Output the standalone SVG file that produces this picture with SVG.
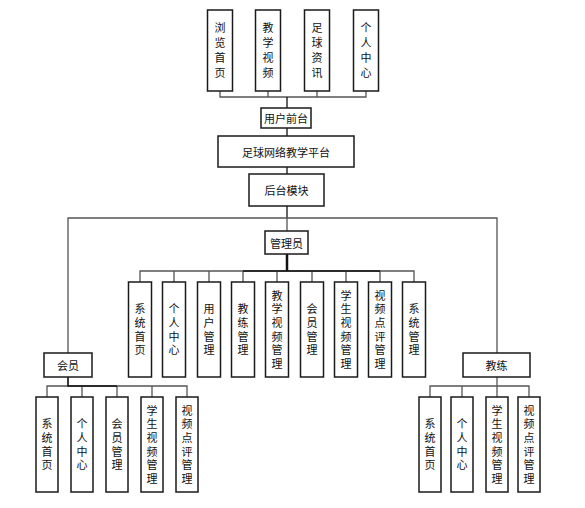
<svg xmlns="http://www.w3.org/2000/svg" width="585" height="508" viewBox="0 0 585 508">
<style>
rect{fill:#fff;stroke:#1a1a1a;stroke-width:1.5}
text{font-family:"Noto Sans CJK SC","Noto Sans CJK JP",sans-serif;font-size:11px;fill:#111;text-anchor:middle;dominant-baseline:central}
.v{writing-mode:vertical-rl;letter-spacing:2.6px}
.t{writing-mode:vertical-rl;letter-spacing:4px}
.c{fill:none;stroke:#555;stroke-width:1.3}
.k{fill:none;stroke:#111;stroke-width:1.3}
</style>
<rect x="0" y="0" width="585" height="508" style="fill:#fff;stroke:none"/>
<g id="connectors">
<path class="c" d="M220 91V97H366V91M268 91V97M317 97V91"/>
<path class="k" d="M287 97V108M287 128V136M287 167V174M287 206V218"/>
<path class="c" d="M68 353V218H497V353M287 218V231"/>
<path class="c" d="M140 282V271H414V282M174 271V282M209 271V282M243 271V282M277 271V282M312 271V282M346 271V282M380 271V282"/>
<path class="k" d="M287 254V271" style="stroke-width:2.5"/>
<path class="k" d="M243 271H380"/>
<path class="c" d="M68 377V386M47 397V386H187V397M82 386V397M117 386V397M152 386V397"/>
<path class="k" d="M68 377V386H117"/>
<path class="c" d="M497 377V386M430 397V386H529V397M462 386V397M497 386V397"/>
</g>
<g id="n-browse"><rect x="207.5" y="10" width="25" height="81"/><text class="t" x="220" y="52.5">浏览首页</text></g>
<g id="n-video"><rect x="255.5" y="10" width="25" height="81"/><text class="t" x="268" y="52.5">教学视频</text></g>
<g id="n-news"><rect x="304.5" y="10" width="25" height="81"/><text class="t" x="317" y="52.5">足球资讯</text></g>
<g id="n-me"><rect x="353.5" y="10" width="25" height="81"/><text class="t" x="366" y="52.5">个人中心</text></g>
<g id="n-front"><rect x="261" y="108" width="50" height="20"/><text x="286" y="118">用户前台</text></g>
<g id="n-platform"><rect x="218" y="136" width="136" height="31"/><text x="286" y="151.5">足球网络教学平台</text></g>
<g id="n-backend"><rect x="249" y="174" width="75" height="32"/><text x="286.5" y="190">后台模块</text></g>
<g id="n-admin"><rect x="265" y="231" width="43" height="23"/><text x="286.5" y="242.5">管理员</text></g>
<g id="n-a1"><rect x="128.5" y="282" width="23" height="95"/><text class="v" x="140" y="331">系统首页</text></g>
<g id="n-a2"><rect x="162.5" y="282" width="23" height="95"/><text class="v" x="174" y="331">个人中心</text></g>
<g id="n-a3"><rect x="197.5" y="282" width="23" height="95"/><text class="v" x="209" y="331">用户管理</text></g>
<g id="n-a4"><rect x="231.5" y="282" width="23" height="95"/><text class="v" x="243" y="331">教练管理</text></g>
<g id="n-a5"><rect x="265.5" y="282" width="23" height="95"/><text class="v" x="277" y="331">教学视频管理</text></g>
<g id="n-a6"><rect x="300.5" y="282" width="23" height="95"/><text class="v" x="312" y="331">会员管理</text></g>
<g id="n-a7"><rect x="334.5" y="282" width="23" height="95"/><text class="v" x="346" y="331">学生视频管理</text></g>
<g id="n-a8"><rect x="368.5" y="282" width="23" height="95"/><text class="v" x="380" y="331">视频点评管理</text></g>
<g id="n-a9"><rect x="402.5" y="282" width="23" height="95"/><text class="v" x="414" y="331">系统管理</text></g>
<g id="n-member"><rect x="44" y="353" width="48" height="24"/><text x="68" y="365">会员</text></g>
<g id="n-m1"><rect x="36" y="397" width="22" height="95"/><text class="v" x="47" y="446">系统首页</text></g>
<g id="n-m2"><rect x="71" y="397" width="22" height="95"/><text class="v" x="82" y="446">个人中心</text></g>
<g id="n-m3"><rect x="106" y="397" width="22" height="95"/><text class="v" x="117" y="446">会员管理</text></g>
<g id="n-m4"><rect x="141" y="397" width="22" height="95"/><text class="v" x="152" y="446">学生视频管理</text></g>
<g id="n-m5"><rect x="176" y="397" width="22" height="95"/><text class="v" x="187" y="446">视频点评管理</text></g>
<g id="n-coach"><rect x="463" y="353" width="67" height="24"/><text x="496.5" y="365">教练</text></g>
<g id="n-c1"><rect x="419" y="397" width="22" height="95"/><text class="v" x="430" y="446">系统首页</text></g>
<g id="n-c2"><rect x="451" y="397" width="22" height="95"/><text class="v" x="462" y="446">个人中心</text></g>
<g id="n-c3"><rect x="486" y="397" width="22" height="95"/><text class="v" x="497" y="446">学生视频管理</text></g>
<g id="n-c4"><rect x="518" y="397" width="22" height="95"/><text class="v" x="529" y="446">视频点评管理</text></g>
</svg>
